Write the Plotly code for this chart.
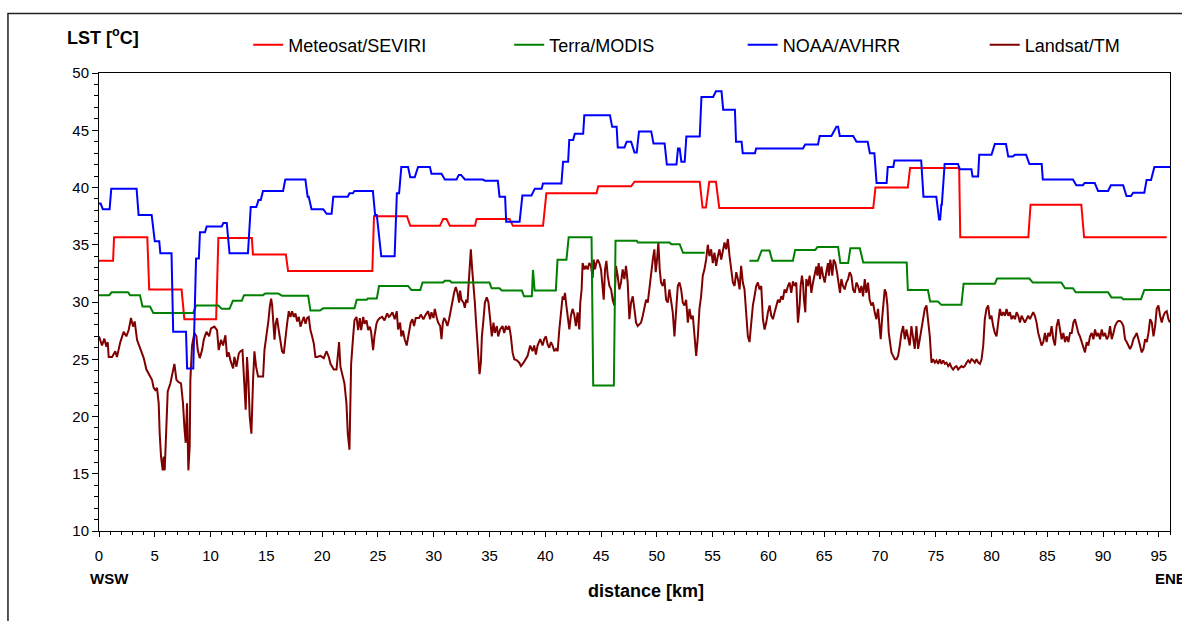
import plotly.graph_objects as go

# ---------------- data ----------------
# Step-like satellite products: segments (start km, end km, LST level)
met_start = [0, 1.35, 4.5, 7.65, 10.7, 13.8, 16.95, 24.65, 27.9, 30.85, 31.45, 33.85, 37.1, 40.1, 44.75, 48.0, 54.1, 54.7, 55.6, 69.6, 72.7, 77.2, 83.5, 88.3]
met_end = [1.26, 4.33, 7.4, 10.5, 13.7, 16.75, 24.5, 27.6, 30.55, 31.15, 33.7, 36.8, 39.8, 44.6, 47.7, 53.85, 54.4, 55.3, 69.4, 72.5, 77.1, 83.3, 88.05, 95.7]
met_level = [33.6, 35.65, 31.1, 28.5, 35.6, 34.15, 32.7, 37.5, 36.65, 37.25, 36.65, 37.25, 36.65, 39.5, 40.1, 40.5, 38.25, 40.5, 38.2, 40.0, 41.7, 35.65, 38.5, 35.65]

terra_start = [0, 1.14, 2.78, 3.9, 4.87, 8.7, 11.0, 12.0, 13.0, 14.9, 16.4, 18.95, 20.1, 23.1, 24.1, 25.1, 28.0, 29.0, 31.0, 31.6, 35.2, 36.1, 38.1, 38.9, 39.05, 41.1, 42.1, 44.3, 46.3, 48.3, 51.3, 52.35, 54.4, 58.3, 59.4, 60.35, 62.4, 64.4, 66.45, 67.35, 68.5, 72.5, 74.5, 75.5, 77.5, 80.5, 83.7, 86.6, 87.55, 90.75, 91.8, 93.7]
terra_end = [0.92, 2.6, 3.67, 4.57, 8.45, 10.7, 11.7, 12.8, 14.7, 16.05, 18.75, 19.8, 22.9, 24.0, 24.9, 27.7, 28.8, 30.85, 31.45, 35.0, 35.9, 37.9, 38.8, 38.9, 40.95, 41.9, 44.15, 46.15, 48.2, 51.15, 52.05, 54.3, 58.2, 59.05, 60.1, 62.2, 64.2, 66.25, 67.15, 68.2, 72.4, 74.3, 75.2, 77.3, 80.3, 83.4, 86.25, 87.3, 90.45, 91.65, 93.4, 96.0]
terra_level = [30.6, 30.85, 30.6, 29.6, 29.05, 29.7, 29.4, 30.1, 30.6, 30.75, 30.55, 29.25, 29.45, 30.2, 30.3, 31.4, 31.05, 31.7, 31.85, 31.7, 31.2, 31.0, 30.5, 32.8, 31.0, 33.7, 35.65, 22.7, 35.35, 35.2, 35.05, 34.3, None, 33.6, 34.5, 33.6, 34.55, 34.8, 33.4, 34.7, 33.45, 31.05, 30.05, 29.75, 31.6, 32.05, 31.7, 31.2, 30.85, 30.4, 30.25, 31.05]

noaa_start = [0, 0.35, 1.1, 3.55, 5.0, 5.5, 6.65, 7.9, 8.7, 9.05, 9.65, 11.15, 11.7, 13.6, 14.3, 14.7, 16.7, 18.7, 19.05, 20.4, 21.0, 22.45, 22.9, 24.75, 25.3, 26.7, 27.1, 27.9, 28.6, 29.8, 31.0, 32.25, 32.8, 34.6, 35.9, 36.5, 37.95, 39.07, 39.8, 41.6, 42.15, 42.65, 43.5, 46.0, 46.5, 47.3, 48.0, 48.4, 49.7, 50.9, 51.9, 52.2, 52.65, 54.0, 55.3, 55.95, 57.1, 57.7, 58.9, 63.3, 64.6, 66.1, 66.4, 67.9, 69.1, 69.7, 70.7, 71.3, 73.9, 75.3, 75.5, 75.8, 77.15, 78.3, 78.9, 80.3, 81.5, 82.1, 83.4, 84.6, 87.6, 88.35, 89.55, 90.7, 92.1, 92.7, 93.9, 94.6]
noaa_end = [0.15, 0.95, 3.37, 4.72, 5.4, 6.5, 7.8, 8.45, 8.95, 9.5, 11.0, 11.45, 13.35, 14.1, 14.5, 16.5, 18.5, 18.8, 20.1, 20.85, 22.3, 22.75, 24.55, 24.9, 26.5, 26.9, 27.7, 28.3, 29.66, 30.7, 32.05, 32.45, 34.4, 35.75, 36.4, 37.7, 38.76, 39.67, 41.45, 42.05, 42.5, 43.4, 45.8, 46.4, 47.1, 47.7, 48.2, 49.5, 50.7, 51.76, 52.05, 52.5, 53.85, 55.05, 55.8, 57.0, 57.6, 58.8, 63.1, 64.45, 65.65, 66.25, 67.6, 68.9, 69.5, 70.6, 71.2, 73.7, 75.05, 75.4, 75.55, 77.0, 78.2, 78.8, 80.0, 81.3, 81.9, 83.1, 84.5, 87.3, 88.2, 89.25, 90.45, 91.8, 92.5, 93.7, 94.3, 96.0]
noaa_level = [38.6, 38.1, 39.9, 37.6, 35.3, 34.25, 27.4, 24.2, 33.8, 36.1, 36.6, 36.9, 34.25, 38.3, 38.9, 39.7, 40.7, 39.2, 38.1, 37.7, 39.2, 39.5, 39.7, 37.6, 34.0, 39.5, 41.8, 40.9, 41.8, 41.2, 40.7, 41.1, 40.7, 40.6, 39.2, 37.0, 39.3, 39.9, 40.35, 42.25, 44.15, 44.7, 46.3, 45.3, 43.5, 44.0, 43.05, 44.9, 43.85, 42.0, 43.4, 42.25, 44.45, 47.9, 48.4, 46.8, 44.0, 43.0, 43.4, 43.75, 44.5, 45.3, 44.5, 44.0, 43.0, 40.4, 41.8, 42.35, 39.2, 37.2, 38.5, 42.05, 41.6, 40.95, 42.85, 43.8, 42.7, 42.85, 42.05, 40.7, 40.2, 40.4, 39.7, 40.2, 39.25, 39.55, 40.65, 41.8]

# Landsat/TM high-resolution profile (km, degC)
landsat_km = [
    0.00, 0.27, 0.48, 0.66, 0.78, 0.87, 1.17, 1.46, 1.61, 1.91,
    2.21, 2.45, 2.66, 2.87, 3.05, 3.20, 3.41, 3.71, 4.01, 4.25,
    4.54, 4.75, 4.90, 5.05, 5.20, 5.35, 5.44, 5.56, 5.71, 5.80,
    5.89, 6.04, 6.16, 6.40, 6.55, 6.76, 6.94, 7.14, 7.35, 7.53,
    7.65, 7.77, 7.89, 8.01, 8.13, 8.19, 8.34, 8.55, 8.73, 8.85,
    9.03, 9.24, 9.39, 9.63, 9.87, 10.04, 10.34, 10.58, 10.73, 10.94,
    11.12, 11.33, 11.48, 11.63, 11.78, 12.02, 12.14, 12.32, 12.53, 12.68,
    12.86, 13.03, 13.15, 13.27, 13.39, 13.51, 13.66, 13.81, 13.93, 14.08,
    14.26, 14.47, 14.71, 14.83, 15.01, 15.19, 15.31, 15.43, 15.52, 15.61,
    15.73, 15.84, 15.96, 16.11, 16.26, 16.41, 16.56, 16.71, 16.86, 17.01,
    17.16, 17.31, 17.46, 17.61, 17.76, 17.91, 18.06, 18.21, 18.36, 18.51,
    18.65, 18.80, 18.95, 19.10, 19.25, 19.40, 19.55, 19.85, 20.15, 20.39,
    20.60, 20.75, 20.90, 21.05, 21.29, 21.41, 21.52, 21.64, 21.82, 22.00,
    22.18, 22.30, 22.45, 22.60, 22.78, 22.90, 23.08, 23.23, 23.38, 23.50,
    23.68, 23.80, 23.98, 24.13, 24.28, 24.39, 24.57, 24.69, 24.87, 24.99,
    25.17, 25.38, 25.59, 25.83, 25.98,
    26.09, 26.30, 26.51, 26.69, 26.81, 26.99, 27.10, 27.25, 27.40, 27.58,
    27.79, 27.94, 28.09, 28.24, 28.39, 28.69, 28.84, 29.08, 29.29, 29.50,
    29.68, 29.80, 29.98, 30.10, 30.28, 30.40, 30.58, 30.70, 30.82, 30.94,
    31.08, 31.23, 31.38, 31.53, 31.68, 31.83, 31.98, 32.13, 32.28, 32.37,
    32.49, 32.67, 32.79, 32.91, 33.03, 33.12, 33.21, 33.33, 33.45, 33.57,
    33.69, 33.78, 33.87, 33.99, 34.11, 34.23, 34.32, 34.44, 34.59, 34.76,
    34.91, 35.06, 35.21, 35.36, 35.48, 35.66, 35.78, 35.96, 36.17, 36.32,
    36.47, 36.62, 36.77, 36.92, 37.07, 37.22, 37.46, 37.67, 37.82, 38.06,
    38.27, 38.42, 38.65, 38.86, 39.01, 39.16, 39.31, 39.55, 39.76, 39.91,
    40.06, 40.21, 40.36, 40.51, 40.66, 40.81, 40.96, 41.11, 41.26, 41.41,
    41.56, 41.65, 41.77, 41.89, 42.01, 42.16, 42.30, 42.45, 42.60, 42.75,
    42.90, 43.05, 43.14, 43.26, 43.35, 43.50, 43.65, 43.80, 43.95, 44.10,
    44.25, 44.34, 44.46, 44.55, 44.70, 44.85, 45.00, 45.15, 45.24, 45.36,
    45.48, 45.60, 45.75, 45.90, 46.04, 46.19, 46.34, 46.49, 46.64, 46.79,
    46.94, 47.09, 47.24, 47.39, 47.54, 47.69, 47.84, 47.99, 48.14, 48.29,
    48.44, 48.59, 48.74, 48.89, 49.04, 49.19, 49.34, 49.49, 49.64, 49.78,
    49.90, 50.02, 50.14, 50.26, 50.38, 50.53, 50.68, 50.83, 50.98, 51.13,
    51.28, 51.43, 51.58, 51.73, 51.88, 52.03, 52.18, 52.33, 52.48, 52.63,
    52.78, 52.93, 53.08, 53.23, 53.38, 53.53, 53.68, 53.82, 53.97, 54.12,
    54.27, 54.42, 54.57, 54.72, 54.87, 55.02, 55.17, 55.32, 55.47, 55.62,
    55.77, 55.92, 56.07, 56.22, 56.37, 56.52, 56.67, 56.82, 56.97, 57.12,
    57.27, 57.42, 57.56, 57.71, 57.86, 58.01, 58.16, 58.31, 58.46, 58.61,
    58.76, 58.91, 59.06, 59.21,
    59.36, 59.51, 59.66, 59.81, 59.96, 60.11, 60.26, 60.41, 60.56, 60.71,
    60.86, 61.01, 61.16, 61.30, 61.45, 61.60, 61.75, 61.90, 62.05, 62.20,
    62.35, 62.50, 62.65, 62.80, 62.89, 63.01, 63.10, 63.19, 63.31, 63.40,
    63.55, 63.70, 63.85, 64.00, 64.15, 64.30, 64.39, 64.51, 64.63, 64.75,
    64.90, 65.05, 65.19, 65.34, 65.43, 65.55, 65.64, 65.73, 65.85, 66.00,
    66.15, 66.30, 66.42, 66.54, 66.69, 66.84, 66.99, 67.14, 67.29, 67.44,
    67.59, 67.74, 67.89, 68.04, 68.19, 68.34, 68.49, 68.64, 68.78, 68.93,
    69.08, 69.23, 69.38, 69.53, 69.68, 69.83, 69.98, 70.07, 70.19, 70.31,
    70.43, 70.55, 70.67, 70.79, 70.91, 71.03, 71.18, 71.33, 71.48, 71.63,
    71.78, 71.93, 72.08, 72.23, 72.38, 72.52, 72.67, 72.82, 72.97, 73.12,
    73.27, 73.42, 73.57, 73.72, 73.87, 74.02, 74.17, 74.32, 74.47, 74.62,
    74.77, 74.92, 75.07, 75.22, 75.37, 75.52, 75.67, 75.82, 75.97, 76.12,
    76.27, 76.41, 76.56, 76.71, 76.86, 77.01, 77.16, 77.31, 77.46, 77.61,
    77.76, 77.91, 78.06, 78.21, 78.36, 78.51, 78.66, 78.81, 78.96, 79.11,
    79.26, 79.40, 79.55, 79.70, 79.85, 80.00, 80.15, 80.30, 80.45, 80.60,
    80.75, 80.90, 81.05, 81.20, 81.35, 81.50, 81.65, 81.80, 81.95, 82.10,
    82.25, 82.40, 82.55, 82.70, 82.85, 82.99, 83.14, 83.29, 83.44, 83.59,
    83.74, 83.89, 84.04, 84.19, 84.34, 84.49, 84.64, 84.79, 84.94, 85.09,
    85.24, 85.39, 85.54, 85.69, 85.84, 85.99, 86.14, 86.29, 86.44, 86.59,
    86.74, 86.89, 87.04, 87.19, 87.34, 87.48, 87.63, 87.78, 87.93, 88.08,
    88.23, 88.38, 88.53, 88.68, 88.83, 88.98, 89.13, 89.28, 89.43, 89.58,
    89.73, 89.88, 90.03, 90.18, 90.33, 90.48, 90.63, 90.78, 90.93, 91.08,
    91.23, 91.37, 91.52, 91.67, 91.82, 91.97, 92.12, 92.27, 92.42, 92.57,
    92.72, 92.87, 93.02, 93.17, 93.32, 93.47, 93.62, 93.77, 93.92, 94.07,
    94.22, 94.37, 94.52, 94.67, 94.81, 94.96, 95.11, 95.26, 95.41, 95.56,
    95.71, 95.86, 96.0,
]
landsat_lst = [
    27.0, 26.2, 26.8, 26.1, 26.5, 25.2, 25.2, 25.7, 25.2, 26.5,
    27.4, 27.0, 27.55, 28.6, 27.85, 28.3, 26.7, 25.8, 25.1, 24.1,
    23.5, 23.2, 22.5, 22.3, 22.5, 21.15, 18.5, 16.5, 15.3, 16.5,
    15.3, 20.3, 22.2, 22.9, 23.5, 24.6, 23.2, 23.0, 22.9, 21.15,
    19.1, 17.7, 21.15, 15.3, 17.4, 23.2, 26.2, 27.3, 27.0, 25.8,
    25.1, 25.8, 26.7, 27.4, 27.0, 27.7, 27.85, 27.55, 25.8, 26.7,
    26.2, 27.1, 25.2, 25.6, 24.9, 24.2, 25.2, 24.35, 25.5, 25.7,
    25.8, 22.9, 20.6, 25.2, 23.2, 20.0, 18.5, 23.2, 25.7, 24.35,
    23.5, 23.5, 23.5, 25.8, 27.0, 28.4, 29.6, 30.3, 29.7, 28.1,
    26.7, 28.1, 28.6, 27.55, 26.5, 25.7, 25.5, 27.0, 28.1, 29.2,
    28.7, 29.2, 28.7, 29.0, 28.3, 28.7, 27.85, 28.3, 28.7, 28.1,
    28.6, 28.7, 27.55, 27.0, 26.4, 25.2, 25.2, 25.3, 25.1, 25.7,
    25.2, 24.6, 24.35, 24.1, 24.1, 25.8, 26.5, 24.35, 23.5, 22.9,
    21.15, 18.5, 17.1, 24.6, 27.0, 28.4, 28.7, 27.55, 28.6, 27.55,
    28.7, 28.1, 28.4, 27.55, 27.85, 27.4, 25.8, 27.0, 28.1, 28.4,
    28.6, 28.7, 28.4, 29.0, 28.7,
    28.8, 29.1, 28.5, 29.2, 27.6, 28.2, 27.0, 27.5, 26.75, 26.2,
    27.3, 28.2, 28.5, 27.9, 28.6, 28.6, 28.9, 28.5, 28.9, 29.2,
    28.5, 29.1, 28.6, 29.4, 28.6, 28.2, 27.9, 26.75, 28.2, 28.6,
    28.35, 27.9, 28.5, 29.4, 29.95, 30.8, 31.3, 30.8, 29.95, 31.0,
    30.2, 29.95, 29.5, 30.2, 29.95, 31.1, 32.6, 34.6, 32.85, 31.7,
    29.95, 28.5, 27.0, 25.3, 23.7, 24.7, 27.0, 28.2, 29.95, 30.4,
    29.95, 28.5, 27.0, 28.2, 27.3, 27.9, 27.0, 27.6, 27.9, 27.3,
    27.9, 27.6, 27.9, 27.0, 25.6, 25.0, 24.9, 24.7, 24.4, 24.7,
    25.0, 25.3, 26.2, 25.7, 26.2, 25.4, 26.2, 26.75, 26.2, 26.75,
    27.0, 26.3, 26.0, 26.5, 26.2, 25.7, 25.9, 25.7, 27.6, 29.4,
    30.5, 30.2, 30.8, 29.7, 28.8, 27.6, 28.8, 29.4, 28.9, 27.9,
    29.1, 27.6, 29.95, 31.1, 33.4, 32.85, 33.15, 32.85, 33.4, 33.15,
    32.1, 33.7, 32.85, 33.3, 33.7, 33.4, 32.85, 31.4, 30.2, 32.85,
    33.6, 32.3, 31.4, 31.1, 30.2, 29.7, 33.15, 32.3, 31.1, 31.7,
    32.85, 32.0, 33.15, 31.7, 28.5, 29.95, 30.5, 29.4, 28.2, 27.9,
    28.1, 28.2, 28.8, 29.4, 30.2, 29.95, 31.4, 32.3, 33.7, 34.6,
    32.6, 33.7, 35.2, 32.85, 31.7, 31.4, 32.0, 30.2, 29.95, 31.1,
    29.95, 29.1, 27.0, 29.1, 31.4, 31.7, 31.1, 29.95, 29.7, 30.2,
    28.2, 29.4, 28.5, 28.8, 27.0, 25.3, 27.0, 29.4, 30.5, 32.3,
    32.85, 33.7, 35.0, 34.0, 34.6, 33.4, 34.3, 33.15, 34.0, 34.6,
    33.7, 34.45, 35.2, 34.6, 35.5, 34.0, 32.85, 31.7, 31.4, 32.6,
    32.0, 31.1, 33.15, 31.7, 31.1, 28.5, 27.0, 26.5, 28.2, 29.7,
    30.5, 31.4, 31.7, 31.1,
    31.4, 28.5, 27.6, 28.2, 29.1, 29.7, 28.8, 28.5, 29.1, 29.7,
    30.2, 29.95, 30.5, 30.2, 31.1, 30.8, 31.4, 31.7, 30.8, 31.8,
    31.4, 31.7, 28.2, 29.7, 31.4, 32.3, 31.7, 30.2, 29.1, 32.0,
    31.4, 32.3, 30.8, 31.7, 32.3, 33.1, 32.3, 33.4, 32.0, 33.1,
    32.3, 31.7, 32.6, 33.4, 32.3, 33.7, 33.1, 32.3, 33.7, 33.4,
    32.6, 31.4, 30.8, 32.0, 31.4, 31.1, 31.7, 32.0, 32.6, 32.3,
    31.1, 30.8, 31.7, 31.4, 30.8, 31.4, 30.5, 32.0, 30.8, 31.7,
    30.2, 29.7, 29.95, 29.1, 28.5, 29.4, 27.9, 26.75, 28.5, 29.7,
    31.1, 30.8, 29.7, 27.3, 26.2, 25.6, 25.3, 25.0, 25.0, 25.3,
    26.2, 27.3, 27.9, 26.75, 27.6, 27.0, 26.2, 27.9, 27.0, 25.9,
    27.9, 25.9, 26.75, 27.6, 28.2, 29.4, 29.7, 28.5, 27.0, 24.7,
    25.0, 24.7, 24.9, 24.6, 25.0, 24.6, 24.9, 24.6, 24.7, 24.4,
    24.6, 24.3, 24.1, 24.3, 24.4, 24.1, 24.3, 24.4, 24.3, 24.4,
    24.7, 24.9, 24.7, 25.0, 24.9, 24.7, 25.0, 24.7, 24.6, 25.0,
    26.2, 28.5, 29.4, 29.7, 28.5, 28.8, 27.9, 27.3, 27.0, 28.5,
    29.4, 28.8, 29.1, 28.8, 29.4, 28.8, 29.1, 28.5, 28.8, 28.5,
    29.1, 28.8, 28.2, 28.8, 28.5, 28.2, 28.5, 28.8, 28.5, 28.8,
    29.1, 28.8, 28.2, 27.3, 26.75, 26.2, 26.5, 27.3, 26.5, 27.3,
    27.0, 27.9, 26.75, 26.2, 27.9, 28.5, 27.6, 26.75, 27.3, 26.5,
    27.0, 26.5, 27.3, 27.3, 28.2, 28.5, 27.9, 27.3, 27.0, 26.5,
    25.9, 25.6, 26.5, 26.2, 27.0, 27.3, 26.75, 27.6, 27.0, 27.3,
    26.75, 27.6, 27.0, 27.3, 26.75, 27.0, 27.9, 26.75, 27.3, 27.9,
    28.2, 28.35, 28.35, 28.2, 27.9, 26.75, 26.5, 26.2, 25.9, 26.2,
    26.75, 27.0, 27.3, 26.75, 26.2, 25.6, 25.9, 26.75, 26.5, 27.3,
    28.5, 28.2, 27.0, 27.9, 29.4, 29.7, 28.8, 28.2, 28.8, 29.1,
    29.2, 28.5, 28.2,
]

series_names = ["Meteosat/SEVIRI", "Terra/MODIS", "NOAA/AVHRR", "Landsat/TM"]
series_colors = ["#FF0000", "#008000", "#0000FF", "#800000"]

x_tick_values = [0, 5, 10, 15, 20, 25, 30, 35, 40, 45, 50, 55, 60, 65, 70, 75, 80, 85, 90, 95]
y_tick_values = [10, 15, 20, 25, 30, 35, 40, 45, 50]


def build_steps(starts, ends, levels):
    xs, ys = [], []
    for s, e, v in zip(starts, ends, levels):
        xs += [s, e]
        ys += [v, v]
    return xs, ys


met_x, met_y = build_steps(met_start, met_end, met_level)
terra_x, terra_y = build_steps(terra_start, terra_end, terra_level)
noaa_x, noaa_y = build_steps(noaa_start, noaa_end, noaa_level)
n_l = min(len(landsat_km), len(landsat_lst))

FONT = "Arial, 'Liberation Sans', sans-serif"

fig = go.Figure()
traces = [
    (met_x, met_y, "legend"),
    (terra_x, terra_y, "legend2"),
    (noaa_x, noaa_y, "legend3"),
    (landsat_km[:n_l], landsat_lst[:n_l], "legend4"),
]
order = [3, 0, 1, 2]
for i in order:
    xs, ys, lg = traces[i]
    fig.add_trace(go.Scatter(
        x=xs, y=ys, mode="lines", name=series_names[i],
        line=dict(color=series_colors[i], width=2),
        connectgaps=False, legend=lg, showlegend=True,
    ))

legend_x = {"legend": 0.1393, "legend2": 0.3830, "legend3": 0.6010, "legend4": 0.8270}
leg_common = dict(orientation="h", y=1.061, yanchor="middle", xanchor="left",
                  bgcolor="rgba(0,0,0,0)", borderwidth=0,
                  font=dict(family=FONT, size=18, color="black"))

fig.update_layout(
    width=1182, height=621, autosize=False,
    margin=dict(l=99, r=12, t=73, b=90),
    paper_bgcolor="white", plot_bgcolor="white",
    font=dict(family=FONT, color="black"),
    legend=dict(x=legend_x["legend"], **leg_common),
    legend2=dict(x=legend_x["legend2"], **leg_common),
    legend3=dict(x=legend_x["legend3"], **leg_common),
    legend4=dict(x=legend_x["legend4"], **leg_common),
    xaxis=dict(
        range=[0, 96], tickvals=x_tick_values, showgrid=False, zeroline=False,
        showline=True, linecolor="black", linewidth=1, mirror=True,
        ticks="outside", ticklen=5, tickcolor="black", tickwidth=1,
        tickfont=dict(size=15, family=FONT, color="black"),
        ticklabelstandoff=6,
        minor=dict(dtick=1, tick0=0, ticks="outside", ticklen=3, tickcolor="black", showgrid=False),
    ),
    yaxis=dict(
        range=[10, 50], tickvals=y_tick_values, showgrid=False, zeroline=False,
        showline=True, linecolor="black", linewidth=1, mirror=True,
        ticks="outside", ticklen=6, tickcolor="black", tickwidth=1,
        tickfont=dict(size=15, family=FONT, color="black"),
        minor=dict(dtick=1, tick0=10, ticks="outside", ticklen=4, tickcolor="black", showgrid=False),
    ),
    annotations=[
        dict(text="<b>LST [<sup>o</sup>C]</b>", x=-0.0320, y=1.079, xref="paper", yref="paper",
             xanchor="left", yanchor="middle", showarrow=False,
             font=dict(size=18, family=FONT, color="black")),
        dict(text="<b>distance [km]</b>", x=0.5107, y=-0.1310, xref="paper", yref="paper",
             xanchor="center", yanchor="middle", showarrow=False,
             font=dict(size=18, family=FONT, color="black")),
        dict(text="<b>WSW</b>", x=-0.0103, y=-0.1027, xref="paper", yref="paper",
             xanchor="left", yanchor="middle", showarrow=False,
             font=dict(size=15, family=FONT, color="black")),
        dict(text="<b>ENE</b>", x=0.9841, y=-0.1027, xref="paper", yref="paper",
             xanchor="left", yanchor="middle", showarrow=False,
             font=dict(size=15, family=FONT, color="black")),
    ],
    shapes=[
        dict(type="rect", xref="paper", yref="paper", x0=-0.0850, y0=-0.25, x1=1.03, y1=1.1300,
             line=dict(color="#222222", width=1.5), fillcolor="rgba(0,0,0,0)", layer="below"),
    ],
)

fig.write_html(
    "out.html",
    config={"displayModeBar": False},
    post_script="document.body.style.margin='0px';document.body.style.overflow='hidden';",
)
